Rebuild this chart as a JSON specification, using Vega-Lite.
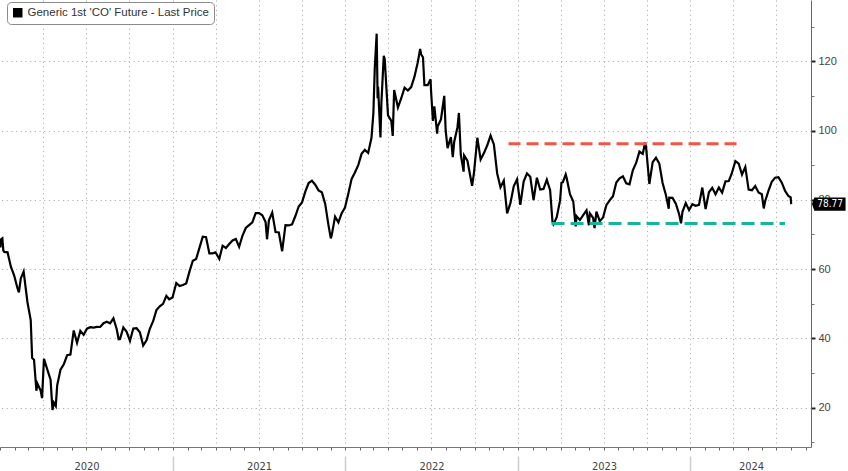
{
  "$schema": "https://vega.github.io/schema/vega-lite/v6.json",
  "width": 811,
  "height": 447,
  "autosize": {"type": "none"},
  "padding": {"left": 0, "top": 0, "right": 37, "bottom": 24},
  "background": "white",
  "config": {
    "view": {"stroke": null},
    "font": "Liberation Sans",
    "axis": {"labelFont": "Liberation Sans", "labelColor": "#444444", "labelFontSize": 11}
  },
  "datasets": {
    "brent": [
      {"d":"2020-01-02","p":66.25},{"d":"2020-01-03","p":68.60},{"d":"2020-01-06","p":68.91},{"d":"2020-01-08","p":65.44},{"d":"2020-01-10","p":64.98},{"d":"2020-01-17","p":64.85},{"d":"2020-01-24","p":60.69},{"d":"2020-01-31","p":58.16},{"d":"2020-02-07","p":54.47},{"d":"2020-02-10","p":53.27},{"d":"2020-02-14","p":57.32},{"d":"2020-02-20","p":59.31},{"d":"2020-02-28","p":50.52},{"d":"2020-03-06","p":45.27},{"d":"2020-03-09","p":34.36},{"d":"2020-03-13","p":33.85},{"d":"2020-03-18","p":24.88},{"d":"2020-03-20","p":26.98},{"d":"2020-03-27","p":24.93},{"d":"2020-03-30","p":22.76},{"d":"2020-04-03","p":34.11},{"d":"2020-04-09","p":31.48},{"d":"2020-04-17","p":28.08},{"d":"2020-04-21","p":19.33},{"d":"2020-04-24","p":21.44},{"d":"2020-04-28","p":20.46},{"d":"2020-05-01","p":26.44},{"d":"2020-05-08","p":30.97},{"d":"2020-05-15","p":32.50},{"d":"2020-05-22","p":35.13},{"d":"2020-05-29","p":35.33},{"d":"2020-06-05","p":42.30},{"d":"2020-06-12","p":38.73},{"d":"2020-06-19","p":42.19},{"d":"2020-06-26","p":41.02},{"d":"2020-07-03","p":42.80},{"d":"2020-07-10","p":43.24},{"d":"2020-07-17","p":43.14},{"d":"2020-07-24","p":43.34},{"d":"2020-07-31","p":43.30},{"d":"2020-08-07","p":44.40},{"d":"2020-08-14","p":44.80},{"d":"2020-08-21","p":44.35},{"d":"2020-08-28","p":45.81},{"d":"2020-09-04","p":42.66},{"d":"2020-09-08","p":39.78},{"d":"2020-09-11","p":39.83},{"d":"2020-09-18","p":43.15},{"d":"2020-09-25","p":41.92},{"d":"2020-10-02","p":39.27},{"d":"2020-10-09","p":42.85},{"d":"2020-10-16","p":42.93},{"d":"2020-10-23","p":41.77},{"d":"2020-10-30","p":37.94},{"d":"2020-11-06","p":39.45},{"d":"2020-11-13","p":42.78},{"d":"2020-11-20","p":44.96},{"d":"2020-11-27","p":48.18},{"d":"2020-12-04","p":49.25},{"d":"2020-12-11","p":49.97},{"d":"2020-12-18","p":52.26},{"d":"2020-12-24","p":51.29},{"d":"2020-12-31","p":51.80},
      {"d":"2021-01-08","p":55.99},{"d":"2021-01-15","p":55.10},{"d":"2021-01-22","p":55.41},{"d":"2021-01-29","p":55.88},{"d":"2021-02-05","p":59.34},{"d":"2021-02-12","p":62.43},{"d":"2021-02-19","p":62.91},{"d":"2021-02-26","p":66.13},{"d":"2021-03-05","p":69.36},{"d":"2021-03-12","p":69.22},{"d":"2021-03-19","p":64.53},{"d":"2021-03-26","p":64.57},{"d":"2021-04-01","p":64.86},{"d":"2021-04-09","p":62.95},{"d":"2021-04-16","p":66.77},{"d":"2021-04-23","p":66.11},{"d":"2021-04-30","p":67.25},{"d":"2021-05-07","p":68.28},{"d":"2021-05-14","p":68.71},{"d":"2021-05-21","p":66.44},{"d":"2021-05-28","p":69.63},{"d":"2021-06-04","p":71.89},{"d":"2021-06-11","p":72.69},{"d":"2021-06-18","p":73.51},{"d":"2021-06-25","p":76.18},{"d":"2021-07-02","p":76.17},{"d":"2021-07-09","p":75.55},{"d":"2021-07-16","p":73.59},{"d":"2021-07-19","p":68.62},{"d":"2021-07-23","p":74.10},{"d":"2021-07-30","p":76.33},{"d":"2021-08-06","p":70.70},{"d":"2021-08-13","p":70.59},{"d":"2021-08-20","p":65.18},{"d":"2021-08-27","p":72.70},{"d":"2021-09-03","p":72.61},{"d":"2021-09-10","p":72.92},{"d":"2021-09-17","p":75.34},{"d":"2021-09-24","p":78.09},{"d":"2021-10-01","p":79.28},{"d":"2021-10-08","p":82.39},{"d":"2021-10-15","p":84.86},{"d":"2021-10-22","p":85.53},{"d":"2021-10-29","p":84.38},{"d":"2021-11-05","p":82.74},{"d":"2021-11-12","p":82.17},{"d":"2021-11-19","p":78.89},{"d":"2021-11-26","p":72.72},{"d":"2021-12-01","p":68.87},{"d":"2021-12-03","p":69.88},{"d":"2021-12-10","p":75.15},{"d":"2021-12-17","p":73.52},{"d":"2021-12-24","p":76.14},{"d":"2021-12-31","p":77.78},
      {"d":"2022-01-07","p":81.75},{"d":"2022-01-14","p":86.06},{"d":"2022-01-21","p":87.89},{"d":"2022-01-28","p":90.03},{"d":"2022-02-04","p":93.27},{"d":"2022-02-11","p":94.44},{"d":"2022-02-18","p":93.54},{"d":"2022-02-25","p":97.93},{"d":"2022-03-01","p":104.97},{"d":"2022-03-04","p":118.11},{"d":"2022-03-08","p":127.98},{"d":"2022-03-10","p":109.33},{"d":"2022-03-11","p":112.67},{"d":"2022-03-16","p":98.02},{"d":"2022-03-18","p":107.93},{"d":"2022-03-23","p":121.60},{"d":"2022-03-25","p":120.65},{"d":"2022-04-01","p":104.39},{"d":"2022-04-08","p":102.78},{"d":"2022-04-11","p":98.48},{"d":"2022-04-14","p":111.70},{"d":"2022-04-22","p":106.65},{"d":"2022-04-29","p":109.34},{"d":"2022-05-06","p":112.39},{"d":"2022-05-13","p":111.55},{"d":"2022-05-20","p":112.55},{"d":"2022-05-27","p":115.56},{"d":"2022-06-03","p":119.72},{"d":"2022-06-08","p":123.58},{"d":"2022-06-10","p":122.01},{"d":"2022-06-14","p":121.17},{"d":"2022-06-17","p":113.12},{"d":"2022-06-24","p":113.12},{"d":"2022-06-30","p":114.81},{"d":"2022-07-01","p":111.63},{"d":"2022-07-05","p":102.77},{"d":"2022-07-08","p":107.02},{"d":"2022-07-14","p":99.10},{"d":"2022-07-15","p":101.16},{"d":"2022-07-22","p":103.20},{"d":"2022-07-29","p":110.01},{"d":"2022-08-01","p":100.03},{"d":"2022-08-05","p":94.92},{"d":"2022-08-12","p":98.15},{"d":"2022-08-16","p":92.34},{"d":"2022-08-19","p":96.72},{"d":"2022-08-26","p":100.99},{"d":"2022-08-29","p":105.09},{"d":"2022-09-02","p":93.02},{"d":"2022-09-08","p":88.15},{"d":"2022-09-09","p":92.84},{"d":"2022-09-16","p":91.35},{"d":"2022-09-23","p":86.15},{"d":"2022-09-26","p":84.06},{"d":"2022-09-30","p":87.96},{"d":"2022-10-07","p":97.92},{"d":"2022-10-14","p":91.63},{"d":"2022-10-21","p":93.50},{"d":"2022-10-28","p":95.77},{"d":"2022-11-04","p":98.57},{"d":"2022-11-11","p":95.99},{"d":"2022-11-18","p":87.62},{"d":"2022-11-25","p":83.63},{"d":"2022-12-02","p":85.57},{"d":"2022-12-09","p":76.10},{"d":"2022-12-16","p":79.04},{"d":"2022-12-23","p":83.92},{"d":"2022-12-30","p":85.91},
      {"d":"2023-01-06","p":78.57},{"d":"2023-01-13","p":85.28},{"d":"2023-01-20","p":87.63},{"d":"2023-01-27","p":86.66},{"d":"2023-02-03","p":79.94},{"d":"2023-02-10","p":86.39},{"d":"2023-02-17","p":83.00},{"d":"2023-02-24","p":83.16},{"d":"2023-03-03","p":85.83},{"d":"2023-03-10","p":82.78},{"d":"2023-03-15","p":73.69},{"d":"2023-03-17","p":72.97},{"d":"2023-03-20","p":73.79},{"d":"2023-03-24","p":74.99},{"d":"2023-03-31","p":79.77},{"d":"2023-04-03","p":84.93},{"d":"2023-04-06","p":85.12},{"d":"2023-04-12","p":87.33},{"d":"2023-04-14","p":86.31},{"d":"2023-04-21","p":81.66},{"d":"2023-04-28","p":79.54},{"d":"2023-05-03","p":72.33},{"d":"2023-05-05","p":75.30},{"d":"2023-05-12","p":74.17},{"d":"2023-05-19","p":75.58},{"d":"2023-05-26","p":76.95},{"d":"2023-05-31","p":72.66},{"d":"2023-06-02","p":76.13},{"d":"2023-06-09","p":74.79},{"d":"2023-06-12","p":71.84},{"d":"2023-06-16","p":76.61},{"d":"2023-06-23","p":73.85},{"d":"2023-06-30","p":74.90},{"d":"2023-07-07","p":78.47},{"d":"2023-07-14","p":79.87},{"d":"2023-07-21","p":81.07},{"d":"2023-07-28","p":84.99},{"d":"2023-08-04","p":86.24},{"d":"2023-08-11","p":86.81},{"d":"2023-08-18","p":84.80},{"d":"2023-08-25","p":84.48},{"d":"2023-09-01","p":88.55},{"d":"2023-09-08","p":90.65},{"d":"2023-09-15","p":93.93},{"d":"2023-09-22","p":93.27},{"d":"2023-09-27","p":96.55},{"d":"2023-09-29","p":95.31},{"d":"2023-10-02","p":90.71},{"d":"2023-10-06","p":84.58},{"d":"2023-10-13","p":90.89},{"d":"2023-10-20","p":92.16},{"d":"2023-10-27","p":90.48},{"d":"2023-11-03","p":84.89},{"d":"2023-11-10","p":81.43},{"d":"2023-11-16","p":77.42},{"d":"2023-11-17","p":80.61},{"d":"2023-11-24","p":80.58},{"d":"2023-12-01","p":78.88},{"d":"2023-12-08","p":75.84},{"d":"2023-12-12","p":73.24},{"d":"2023-12-15","p":76.55},{"d":"2023-12-22","p":79.07},{"d":"2023-12-29","p":77.04},
      {"d":"2024-01-05","p":78.76},{"d":"2024-01-12","p":78.29},{"d":"2024-01-19","p":78.56},{"d":"2024-01-26","p":83.55},{"d":"2024-02-02","p":77.33},{"d":"2024-02-09","p":82.19},{"d":"2024-02-16","p":83.47},{"d":"2024-02-23","p":81.62},{"d":"2024-03-01","p":83.55},{"d":"2024-03-08","p":82.08},{"d":"2024-03-15","p":85.34},{"d":"2024-03-22","p":85.43},{"d":"2024-03-28","p":87.48},{"d":"2024-04-05","p":91.17},{"d":"2024-04-12","p":90.45},{"d":"2024-04-19","p":87.29},{"d":"2024-04-26","p":89.50},{"d":"2024-05-03","p":82.96},{"d":"2024-05-10","p":82.79},{"d":"2024-05-17","p":83.98},{"d":"2024-05-24","p":82.12},{"d":"2024-05-31","p":81.62},{"d":"2024-06-04","p":77.52},{"d":"2024-06-07","p":79.62},{"d":"2024-06-14","p":82.62},{"d":"2024-06-21","p":85.24},{"d":"2024-06-28","p":86.41},{"d":"2024-07-05","p":86.54},{"d":"2024-07-12","p":85.03},{"d":"2024-07-19","p":82.63},{"d":"2024-07-26","p":81.13},{"d":"2024-07-31","p":80.72},{"d":"2024-08-01","p":78.77}
    ],
    "resistance": [{"s": "2022-12-12", "e": "2024-04-19", "v": 96.2}],
    "support": [{"s": "2023-03-13", "e": "2024-07-19", "v": 73.2}],
    "last": [{"d": "2024-08-01", "p": 78.77, "label": "78.77"}]
  },
  "resolve": {"axis": {"x": "independent", "y": "independent"}},
  "layer": [
    {
      "data": {"name": "brent"},
      "mark": {"type": "line", "color": "#000000", "strokeWidth": 2.2},
      "encoding": {
        "x": {
          "field": "d", "type": "temporal",
          "scale": {"type": "utc", "domain": ["2020-01-01", "2024-09-12"]},
          "axis": {"orient": "bottom", "title": null, "labels": false, "grid": false,
                   "tickCount": {"interval": "month", "step": 1}, "tickSize": 3, "tickColor": "#666666",
                   "domainColor": "#777777", "domainWidth": 1}
        },
        "y": {
          "field": "p", "type": "quantitative",
          "scale": {"domain": [8.65, 137.7], "nice": false, "zero": false},
          "axis": {"orient": "right", "title": null, "values": [20, 40, 60, 80, 100, 120],
                   "grid": true, "gridDash": [1.2, 3.5], "gridColor": "#b0b0b0", "gridWidth": 1,
                   "tickSize": 4, "tickWidth": 2, "tickColor": "#222222",
                   "domainColor": "#666666", "domainWidth": 1, "labelPadding": 3}
        },
        "color": {
          "datum": "Generic 1st 'CO' Future - Last Price",
          "scale": {"range": ["#000000"]},
          "legend": {"orient": "none", "legendX": 7, "legendY": 2, "title": null, "padding": 5,
                     "strokeColor": "#8a8a8a", "fillColor": "#ffffff", "cornerRadius": 4,
                     "symbolType": "square", "symbolSize": 90, "symbolFillColor": "#000000",
                     "symbolStrokeColor": "#000000", "symbolStrokeWidth": 0, "labelLimit": 400,
                     "labelFontSize": 11.5, "labelColor": "#333333", "labelFont": "Liberation Sans"}
        }
      }
    },
    {
      "data": {"name": "resistance"},
      "mark": {"type": "rule", "color": "#f25545", "strokeWidth": 3, "strokeDash": [12, 6]},
      "encoding": {
        "x": {"field": "s", "type": "temporal",
              "axis": {"orient": "bottom", "title": null, "labels": false, "ticks": false, "domain": false,
                       "grid": true, "gridDash": [1.2, 3.5], "gridColor": "#b0b0b0", "gridWidth": 1,
                       "values": [
                         {"year": 2020, "month": 4, "date": 1, "utc": true},{"year": 2020, "month": 7, "date": 1, "utc": true},{"year": 2020, "month": 10, "date": 1, "utc": true},
                         {"year": 2021, "month": 1, "date": 1, "utc": true},{"year": 2021, "month": 4, "date": 1, "utc": true},{"year": 2021, "month": 7, "date": 1, "utc": true},{"year": 2021, "month": 10, "date": 1, "utc": true},
                         {"year": 2022, "month": 1, "date": 1, "utc": true},{"year": 2022, "month": 4, "date": 1, "utc": true},{"year": 2022, "month": 7, "date": 1, "utc": true},{"year": 2022, "month": 10, "date": 1, "utc": true},
                         {"year": 2023, "month": 1, "date": 1, "utc": true},{"year": 2023, "month": 4, "date": 1, "utc": true},{"year": 2023, "month": 7, "date": 1, "utc": true},{"year": 2023, "month": 10, "date": 1, "utc": true},
                         {"year": 2024, "month": 1, "date": 1, "utc": true},{"year": 2024, "month": 4, "date": 1, "utc": true},{"year": 2024, "month": 7, "date": 1, "utc": true}
                       ]}},
        "x2": {"field": "e"},
        "y": {"field": "v", "type": "quantitative",
              "axis": {"orient": "right", "title": null, "labels": false, "grid": false, "domain": false,
                       "values": [10, 30, 50, 70, 90, 110, 130], "tickSize": 3, "tickColor": "#777777"}}
      }
    },
    {
      "data": {"name": "support"},
      "mark": {"type": "rule", "color": "#16b59b", "strokeWidth": 3, "strokeDash": [13, 6]},
      "encoding": {
        "x": {"field": "s", "type": "temporal",
              "axis": {"orient": "bottom", "title": null, "ticks": false, "domain": false, "grid": false,
                       "labelPadding": 13, "labelFont": "Liberation Sans Narrow, DejaVu Sans Condensed, Liberation Sans",
                       "labelFontSize": 11, "labelColor": "#444444",
                       "labelExpr": "utcFormat(datum.value, '%Y')",
                       "values": [
                         {"year": 2020, "month": 7, "date": 2, "utc": true},
                         {"year": 2021, "month": 7, "date": 2, "utc": true},
                         {"year": 2022, "month": 7, "date": 2, "utc": true},
                         {"year": 2023, "month": 7, "date": 2, "utc": true},
                         {"year": 2024, "month": 5, "date": 8, "utc": true}
                       ]}},
        "x2": {"field": "e"},
        "y": {"field": "v", "type": "quantitative", "axis": null}
      }
    },
    {
      "data": {"name": "last"},
      "mark": {"type": "point", "filled": true, "color": "#000000", "opacity": 1, "size": 1024,
               "shape": "M-1.1,0L-0.95,-0.42L1,-0.42L1,0.42L-0.95,0.42Z", "xOffset": 38.4, "clip": false},
      "encoding": {
        "x": {"field": "d", "type": "temporal",
              "axis": {"orient": "bottom", "title": null, "labels": false, "domain": false, "grid": false,
                       "offset": 9, "tickSize": 15, "tickColor": "#cccccc", "tickWidth": 1.5,
                       "values": [
                         {"year": 2021, "month": 1, "date": 1, "utc": true},
                         {"year": 2022, "month": 1, "date": 1, "utc": true},
                         {"year": 2023, "month": 1, "date": 1, "utc": true},
                         {"year": 2024, "month": 1, "date": 1, "utc": true}
                       ]}},
        "y": {"field": "p", "type": "quantitative", "axis": null}
      }
    },
    {
      "data": {"name": "last"},
      "mark": {"type": "text", "color": "#ffffff", "fontSize": 10, "xOffset": 39, "align": "center", "baseline": "middle",
               "font": "Liberation Sans Narrow, DejaVu Sans Condensed, Liberation Sans"},
      "encoding": {
        "x": {"field": "d", "type": "temporal", "axis": null},
        "y": {"field": "p", "type": "quantitative", "axis": null},
        "text": {"field": "label"}
      }
    }
  ]
}
